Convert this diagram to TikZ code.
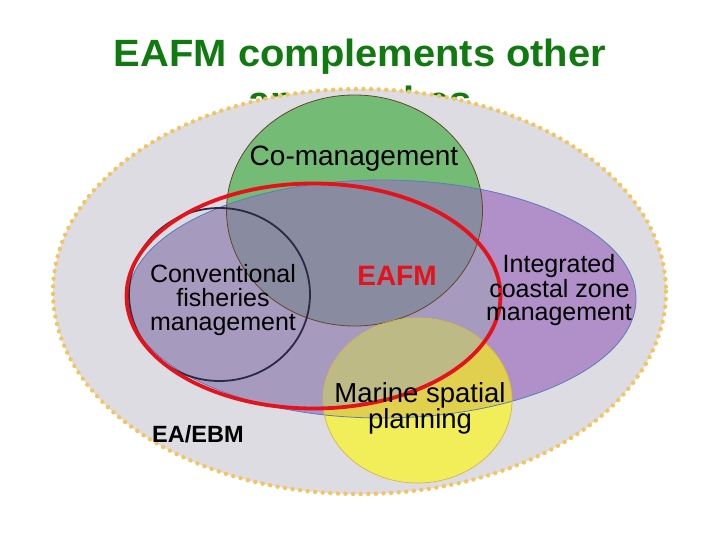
\documentclass[tikz,border=0pt]{standalone}
\usepackage{fontspec}
\setmainfont{Liberation Sans}
\newfontfamily\titlefont[FakeStretch=1.05]{Liberation Sans}
\definecolor{titlegreen}{RGB}{16,122,16}
\definecolor{outergray}{RGB}{220,220,226}
\definecolor{dotyellow}{RGB}{245,196,92}
\definecolor{purp}{RGB}{177,143,201}
\definecolor{purpred}{RGB}{166,154,190}
\definecolor{greenfill}{RGB}{116,188,118}
\definecolor{greenpurp}{RGB}{137,139,160}
\definecolor{yel}{RGB}{242,238,90}
\definecolor{yelpurp}{RGB}{225,208,78}
\definecolor{yelred}{RGB}{189,186,134}
\definecolor{greenline}{RGB}{100,70,40}
\definecolor{purpline}{RGB}{91,125,184}
\definecolor{yelline}{RGB}{212,184,74}
\definecolor{convline}{RGB}{42,42,68}
\definecolor{eafmred}{RGB}{228,18,27}
\newcommand\shpOuter{(359.5,291.5) ellipse [x radius=306.5, y radius=202.5]}
\newcommand\shpPurple{(382,299) ellipse [x radius=254, y radius=119]}
\newcommand\shpGreen{(354.5,210.5) ellipse [x radius=128, y radius=115.5]}
\newcommand\shpRed{(313.5,296) ellipse [x radius=187, y radius=112.5]}
\newcommand\shpConv{(219.5,294.5) ellipse [x radius=90.5, y radius=86.5]}
\newcommand\shpYellow{(417.5,400.5) ellipse [x radius=94.5, y radius=82.5]}
\tikzset{
  titletext/.style={anchor=base, inner sep=0pt, text=titlegreen, font=\titlefont\fontsize{38}{44}\selectfont\bfseries},
  lbl/.style={anchor=base, inner sep=0pt, text=black, font=\fontsize{25}{30}\selectfont},
}
\begin{document}
\begin{tikzpicture}[x=1pt,y=-1pt]
\useasboundingbox (0,0) rectangle (720,540);
% title (second line partly hidden behind the outer ellipse)
\node[titletext] (title1) at (360,66.7) {EAFM complements other};
\node[titletext] (title2) at (360,114) {approaches};
% outer EA/EBM ellipse
\fill[outergray] \shpOuter;
% integrated coastal zone management
\fill[purp] \shpPurple;
\begin{scope}
  \clip \shpRed;
  \fill[purpred] \shpPurple;
\end{scope}
% co-management
\fill[greenfill] \shpGreen;
\begin{scope}
  \clip \shpPurple;
  \fill[greenpurp] \shpGreen;
\end{scope}
% marine spatial planning
\fill[yel] \shpYellow;
\begin{scope}
  \clip \shpPurple;
  \fill[yelpurp] \shpYellow;
\end{scope}
\begin{scope}
  \clip \shpRed;
  \fill[yelred] \shpYellow;
\end{scope}
% outlines
\draw[greenline, line width=0.8pt] \shpGreen;
\draw[purpline, line width=0.8pt] \shpPurple;
\draw[yelline, line width=0.7pt] \shpYellow;
\draw[convline, line width=1.8pt] \shpConv;
\draw[eafmred, line width=3.8pt] \shpRed;
\draw[dotyellow, line width=4.4pt, line cap=round, dash pattern=on 0pt off 7.6pt] \shpOuter;
% labels
\node[lbl, font=\fontsize{28}{30}\selectfont] (co) at (354,166) {Co-management};
\node[lbl] (conv1) at (223,282) {Conventional};
\node[lbl] (conv2) at (223,306.5) {fisheries};
\node[lbl] (conv3) at (223,330) {management};
\node[anchor=base, inner sep=0pt, text=eafmred, font=\fontsize{28}{30}\selectfont\bfseries] (eafm) at (397,285) {EAFM};
\node[lbl] (iczm1) at (559,272) {Integrated};
\node[lbl] (iczm2) at (559.5,297) {coastal zone};
\node[lbl] (iczm3) at (559,320.5) {management};
\node[lbl, font=\fontsize{27.5}{30}\selectfont] (msp1) at (420,402) {Marine spatial};
\node[lbl, font=\fontsize{27.5}{30}\selectfont] (msp2) at (420,428) {planning};
\node[anchor=base west, inner sep=0pt, text=black, font=\fontsize{23.5}{28}\selectfont\bfseries] (eaebm) at (152,442) {EA/EBM};
\end{tikzpicture}
\end{document}
